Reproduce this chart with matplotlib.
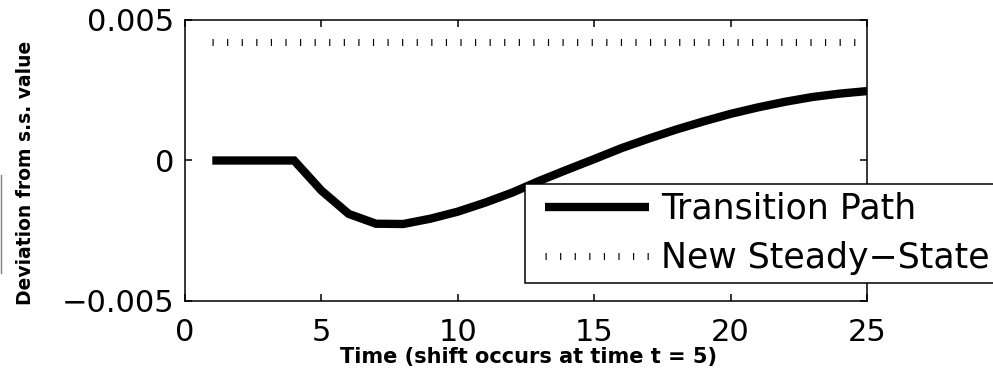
import numpy as np
import matplotlib
matplotlib.use("Agg")
import matplotlib.pyplot as plt
from matplotlib.lines import Line2D

# values
time = list(range(1, 26))
transition_path = [0.0, 0.0, 0.0, 0.0, -0.00107, -0.0019, -0.00225, -0.00226,
                   -0.00207, -0.00182, -0.0015, -0.00114, -0.00072, -0.00033,
                   0.00005, 0.00044, 0.00078, 0.0011, 0.00139, 0.00166,
                   0.00189, 0.00209, 0.00226, 0.00238, 0.00247]
new_steady_state = [0.0042] * 25
xticks = [0, 5, 10, 15, 20, 25]
yticks = [-0.005, 0, 0.005]
ytick_labels = ["\u22120.005", "0", "0.005"]

plt.rcParams["font.family"] = ["DejaVu Sans"]

fig = plt.figure(figsize=(9.93, 3.76), dpi=100)
ax = fig.add_axes([185 / 993, 75 / 376, 682 / 993, 281 / 376])

ax.plot(time, transition_path, color="black", linewidth=6,
        solid_capstyle="butt", solid_joinstyle="miter", label="Transition Path")
ax.plot(time, new_steady_state, color="black", linewidth=5,
        linestyle=(0, (0.17, 1.93)), dash_capstyle="butt",
        label="New Steady\u2212State")

ax.set_xlim(0, 25)
ax.set_ylim(-0.005, 0.005)
ax.set_xticks(xticks)
ax.set_yticks(yticks)
ax.set_yticklabels(ytick_labels)
ax.tick_params(direction="in", length=5, width=1.1, top=True, right=True,
               labelsize=22)
ax.tick_params(axis="y", pad=8)
ax.tick_params(axis="x", pad=12)
for s in ax.spines.values():
    s.set_linewidth(1.1)

ax.set_xlabel("Time (shift occurs at time t = 5)", fontsize=15,
              fontweight="bold", va="top")
ax.xaxis.set_label_coords(0.503, -0.165)
ax.set_ylabel("Deviation from s.s. value", fontsize=13.5, fontweight="bold")
ax.yaxis.set_label_coords(-0.22, 0.457)

leg = ax.legend(loc="upper left", bbox_to_anchor=(0.516, 0.416),
                borderaxespad=0, fontsize=25, fancybox=False, framealpha=1,
                edgecolor="black", handlelength=3.0, handletextpad=0.35,
                borderpad=0.22, labelspacing=0.45)
frame = leg.get_frame()
frame.set_linewidth(1.1)
# extra padding left/right only
frame.set_boxstyle("square", pad=0.35)
frame.set_mutation_aspect(0.01)

# cut-off title above the plot, only the descenders show
fig.text(298 / 993, 1.023, "Aggregate", fontsize=27, fontweight="bold",
         ha="left", va="baseline")
# grey edge left over from the neighbouring panel
fig.add_artist(Line2D([0.001, 0.001], [(376 - 175) / 376, (376 - 273) / 376],
                      color="gray", linewidth=1))

fig.savefig("out.png", dpi=100)
